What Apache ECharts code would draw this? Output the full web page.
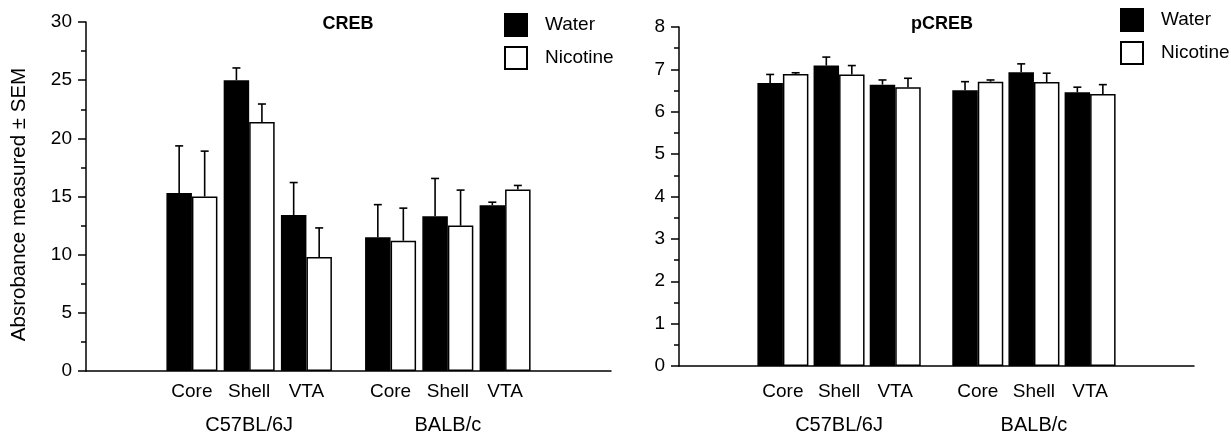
<!DOCTYPE html>
<html>
<head>
<meta charset="utf-8">
<script src="https://cdn.jsdelivr.net/npm/echarts@6/dist/echarts.min.js"></script>
<style>
html,body{margin:0;padding:0;background:#fff;}
#c{width:1231px;height:433px;}
</style>
</head>
<body>
<div id="c"></div>
<script>
// ---- data ----
const regions = ['Core', 'Shell', 'VTA'];
const strains = ['C57BL/6J', 'BALB/c'];
const seriesNames = ['Water', 'Nicotine'];

const crebWater    = [15.3, 25.0, 13.4, 11.5, 13.3, 14.25];
const crebWaterSem = [4.05, 1.05, 2.8, 2.8, 3.25, 0.26];
const crebNic      = [15.0, 21.4, 9.8, 11.2, 12.5, 15.6];
const crebNicSem   = [3.9, 1.55, 2.5, 2.8, 3.05, 0.35];

const pcrebWater    = [6.68, 7.09, 6.64, 6.51, 6.93, 6.46];
const pcrebWaterSem = [0.20, 0.20, 0.11, 0.20, 0.20, 0.12];
const pcrebNic      = [6.89, 6.88, 6.58, 6.71, 6.70, 6.42];
const pcrebNicSem   = [0.03, 0.21, 0.21, 0.04, 0.21, 0.22];

const crebTicks  = {min: 0, max: 30, interval: 5};
const pcrebTicks = {min: 0, max: 8, interval: 1};

// ---- layout ----
const FONT = '"Liberation Sans", Arial, Helvetica, sans-serif';
const BAR_W = 25.5;
const STRAIN_GAP = 0.47;
const nR = regions.length;
const groups = [];
strains.forEach((s, si) => regions.forEach((r, ri) => groups.push({region: r, strain: si, pos: si * (nR + STRAIN_GAP) + ri})));
const positions = groups.map(g => g.pos);
const strainCenters = strains.map((s, si) => si * (nR + STRAIN_GAP) + (nR - 1) / 2);
const X_MIN = -1.85;
const X_MAX = positions[positions.length - 1] + 1.85;

function labelFor(v, vals, names) {
  let best = 0, d = Infinity;
  vals.forEach((p, i) => { const dd = Math.abs(p - v); if (dd < d) { d = dd; best = i; } });
  return names[best];
}

function xAxes(gridIndex, labelMargin, strainMargin) {
  return [
    {
      type: 'value', gridIndex, min: X_MIN, max: X_MAX,
      axisLine: {show: true, onZero: false, lineStyle: {color: '#000', width: 1.5}},
      axisTick: {show: false}, splitLine: {show: false},
      axisLabel: {
        customValues: positions, margin: labelMargin, color: '#000', fontSize: 19, fontFamily: FONT,
        formatter: v => labelFor(v, positions, groups.map(g => g.region))
      }
    },
    {
      type: 'value', gridIndex, min: X_MIN, max: X_MAX, position: 'bottom',
      axisLine: {show: false, onZero: false}, axisTick: {show: false}, splitLine: {show: false},
      axisLabel: {
        customValues: strainCenters, margin: strainMargin, color: '#000', fontSize: 20, fontFamily: FONT,
        formatter: v => labelFor(v, strainCenters, strains)
      }
    }
  ];
}

function yAxis(gridIndex, ticks, name) {
  return {
    type: 'value', gridIndex, min: ticks.min, max: ticks.max, interval: ticks.interval,
    position: 'left',
    name: name || '', nameLocation: 'middle', nameGap: 56, nameRotate: 90,
    nameTextStyle: {color: '#000', fontSize: 20.5, fontFamily: FONT, padding: [0, 16, 0, 0]},
    axisLine: {show: true, onZero: false, lineStyle: {color: '#000', width: 1.5}},
    axisTick: {show: true, length: 8, lineStyle: {color: '#000', width: 1.5}},
    minorTick: {show: true, splitNumber: 2, length: 5, lineStyle: {color: '#000', width: 1.5}},
    splitLine: {show: false},
    axisLabel: {color: '#000', fontSize: 19, fontFamily: FONT, margin: 14}
  };
}

function barSeries(name, xi, yi, values, fill) {
  return {
    type: 'bar', name, xAxisIndex: xi, yAxisIndex: yi,
    barWidth: BAR_W, barGap: '0%',
    itemStyle: {color: fill, borderColor: '#000', borderWidth: 1.5},
    data: values.map((v, i) => [positions[i], v]),
    z: 2
  };
}

function errSeries(xi, yi, values, sems, side) {
  return {
    type: 'custom', xAxisIndex: xi, yAxisIndex: yi, z: 3, silent: true,
    encode: {x: 0, y: 1},
    data: values.map((v, i) => [positions[i], v, sems[i], side]),
    renderItem: (params, api) => {
      const x = api.value(0), m = api.value(1), s = api.value(2), sd = api.value(3);
      const p0 = api.coord([x, m]);
      const p1 = api.coord([x, m + s]);
      const cx = p0[0] + sd * BAR_W / 2;
      const st = {stroke: '#000', lineWidth: 1.6};
      return {type: 'group', children: [
        {type: 'line', shape: {x1: cx, y1: p0[1], x2: cx, y2: p1[1]}, style: st},
        {type: 'line', shape: {x1: cx - 4, y1: p1[1], x2: cx + 4, y2: p1[1]}, style: st}
      ]};
    }
  };
}

function legend(left, top) {
  return {
    left, top, padding: 0, orient: 'vertical', itemWidth: 22, itemHeight: 22, itemGap: 9,
    icon: 'rect', selectedMode: false,
    itemStyle: {borderColor: '#000', borderWidth: 2},
    textStyle: {color: '#000', fontSize: 19, fontFamily: FONT, padding: [0, 0, 0, 13]},
    data: seriesNames
  };
}

const chart = echarts.init(document.getElementById('c'), null, {renderer: 'canvas'});
chart.setOption({
  backgroundColor: '#fff',
  animation: false,
  title: [
    {text: 'CREB', left: 348, top: 15, padding: 0, textAlign: 'center', textStyle: {fontSize: 18, fontWeight: 'bold', color: '#000', fontFamily: FONT}},
    {text: 'pCREB', left: 942, top: 15, padding: 0, textAlign: 'center', textStyle: {fontSize: 18, fontWeight: 'bold', color: '#000', fontFamily: FONT}}
  ],
  legend: [legend(504, 13), legend(1120, 8)],
  grid: [
    {left: 86, top: 22, width: 525, height: 349, containLabel: false, outerBoundsMode: 'none'},
    {left: 679, top: 27, width: 515, height: 339, containLabel: false, outerBoundsMode: 'none'}
  ],
  xAxis: [...xAxes(0, 11, 44), ...xAxes(1, 16, 49)],
  yAxis: [yAxis(0, crebTicks, 'Absrobance measured ± SEM'), yAxis(1, pcrebTicks)],
  series: [
    barSeries(seriesNames[0], 0, 0, crebWater, '#000'),
    barSeries(seriesNames[1], 0, 0, crebNic, '#fff'),
    errSeries(0, 0, crebWater, crebWaterSem, -1),
    errSeries(0, 0, crebNic, crebNicSem, 1),
    barSeries(seriesNames[0], 2, 1, pcrebWater, '#000'),
    barSeries(seriesNames[1], 2, 1, pcrebNic, '#fff'),
    errSeries(2, 1, pcrebWater, pcrebWaterSem, -1),
    errSeries(2, 1, pcrebNic, pcrebNicSem, 1)
  ]
});
</script>
</body>
</html>
